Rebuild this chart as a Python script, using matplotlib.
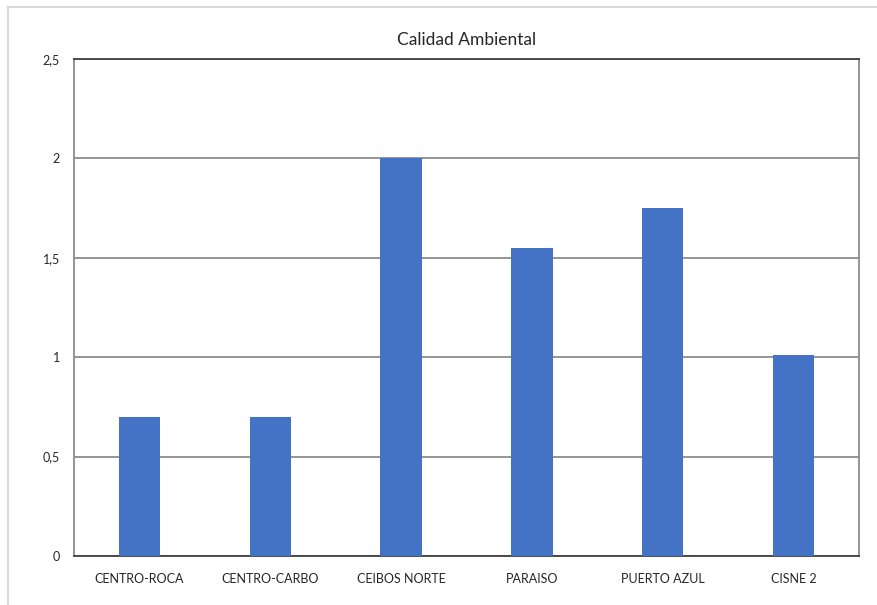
import matplotlib
matplotlib.use("Agg")
import matplotlib.pyplot as plt
from matplotlib.lines import Line2D
from matplotlib.ticker import FuncFormatter

categories = ["CENTRO-ROCA", "CENTRO-CARBO", "CEIBOS NORTE", "PARAISO", "PUERTO AZUL", "CISNE 2"]
values = [0.70, 0.70, 2.00, 1.55, 1.75, 1.01]
y_ticks = [0, 0.5, 1, 1.5, 2, 2.5]
title = "Calidad Ambiental"

plt.rcParams["font.family"] = ["Lato", "DejaVu Sans"]

fig = plt.figure(figsize=(8.78, 6.05), dpi=100)
ax = fig.add_axes([74 / 878, 49 / 605, 785 / 878, 497 / 605])

x = range(len(categories))
ax.bar(x, values, width=0.317, color="#4472C4", zorder=3)

ax.set_xlim(-0.5, len(categories) - 0.5)
ax.set_ylim(0, 2.5)
ax.set_yticks(y_ticks)
ax.yaxis.set_major_formatter(FuncFormatter(lambda v, p: ("%g" % v).replace(".", ",")))
ax.set_xticks(list(x))
ax.set_xticklabels(categories)
ax.tick_params(axis="both", length=0, labelsize=9, colors="#262626")
ax.tick_params(axis="y", pad=10)
ax.tick_params(axis="x", pad=12)

ax.grid(axis="y", color="#8c8c8c", linewidth=1.3, zorder=0)
ax.set_axisbelow(True)
for side in ("top", "bottom"):
    ax.spines[side].set_color("#404040")
    ax.spines[side].set_linewidth(1.3)
for side in ("left", "right"):
    ax.spines[side].set_color("#8c8c8c")
    ax.spines[side].set_linewidth(1.3)

ax.set_title(title, fontsize=12.5, color="#262626", pad=10)

# light frame around the chart area
fig.add_artist(Line2D([8 / 878, 8 / 878], [0, 1 - 7 / 605], transform=fig.transFigure,
                      color="#d9d9d9", linewidth=1.5))
fig.add_artist(Line2D([8 / 878, 1], [1 - 7 / 605, 1 - 7 / 605], transform=fig.transFigure,
                      color="#d9d9d9", linewidth=1.5))

fig.savefig("out.png", dpi=100)
